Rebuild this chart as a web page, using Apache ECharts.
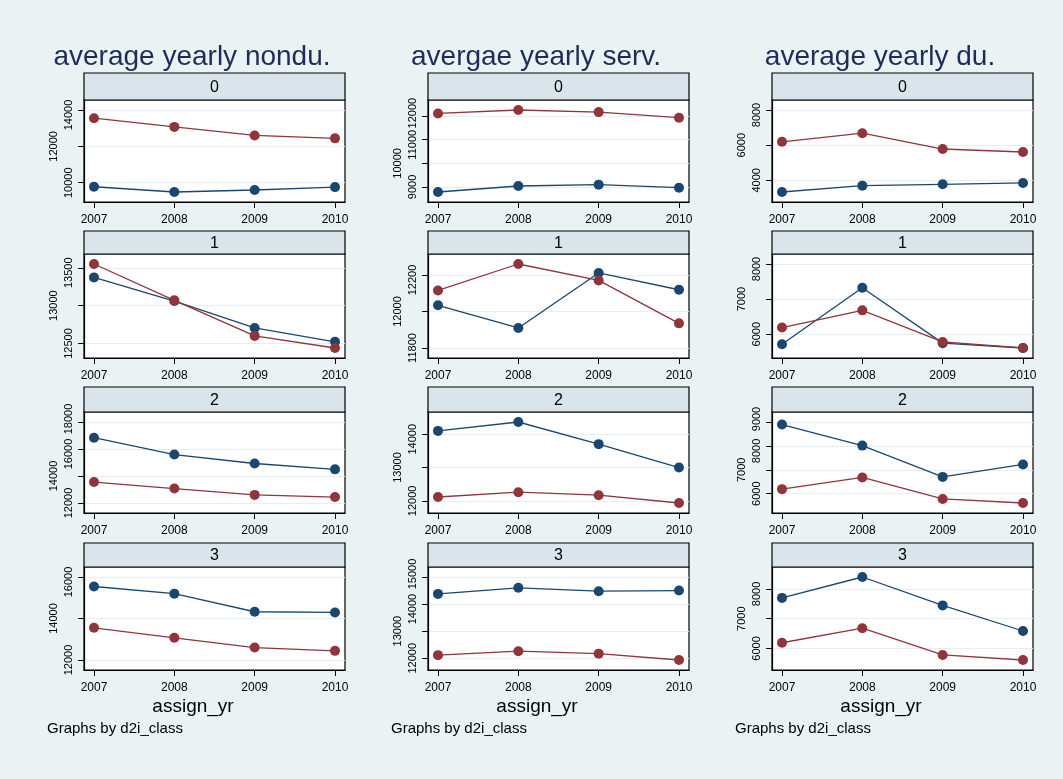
<!DOCTYPE html>
<html><head><meta charset="utf-8">
<script src="https://cdn.jsdelivr.net/npm/echarts@6/dist/echarts.min.js"></script>
<style>html,body{margin:0;padding:0;background:#eaf2f3}#c{width:1063px;height:779px}</style>
</head><body><div id="c"></div>
<script>
// ---------------- data ----------------
const years = [2007, 2008, 2009, 2010];
const classLabels = ['0', '1', '2', '3'];
const titles = ['average yearly nondu.', 'avergae yearly serv.', 'average yearly du.'];
const xTitle = 'assign_yr';
const note = 'Graphs by d2i_class';

// class-specific yearly averages (blue), classes 0..3
const nonduClass0 = [9780, 9490, 9600, 9760];
const nonduClass1 = [13373, 13060, 12705, 12522];
const nonduClass2 = [16838, 15588, 14927, 14492];
const nonduClass3 = [15542, 15198, 14325, 14292];
const nonduAll = [13550, 13070, 12600, 12440];   // overall average (red)

const servClass0 = [8787, 9042, 9098, 8970];
const servClass1 = [12034, 11910, 12211, 12119];
const servClass2 = [14101, 14368, 13703, 13000];
const servClass3 = [14376, 14602, 14477, 14500];
const servAll = [12115, 12260, 12170, 11935];

const duClass0 = [3334, 3696, 3770, 3851];
const duClass1 = [5716, 7322, 5746, 5608];
const duClass2 = [8893, 8012, 6702, 7224];
const duClass3 = [7700, 8403, 7448, 6586];
const duAll = [6190, 6680, 5780, 5610];

// y tick labels per panel
const nonduTicks = [[10000, 12000, 14000], [12500, 13000, 13500], [12000, 14000, 16000, 18000], [12000, 14000, 16000]];
const servTicks = [[9000, 10000, 11000, 12000], [11800, 12000, 12200], [12000, 13000, 14000], [12000, 13000, 14000, 15000]];
const duTicks = [[4000, 6000, 8000], [6000, 7000, 8000], [6000, 7000, 8000, 9000], [6000, 7000, 8000]];
// labels drawn in the staggered (outer) position
const nonduStagger = [[12000], [13000], [14000], [14000]];
const servStagger = [[10000], [12000], [13000], [13000]];
const duStagger = [[6000], [7000], [7000], [7000]];

// ---------------- layout ----------------
const BLUE = '#1a476f', RED = '#90353b';
const FONT = 'Liberation Sans, Arial, sans-serif';
const colLeft = [84, 428, 772];
const plotW = 261;
const rowTop = [100, 254, 412, 567];
const rowH = [102, 104, 101, 103];
const stripTop = [73, 231, 387, 543];
const PAD = 10;

const measures = [
  { cls: [nonduClass0, nonduClass1, nonduClass2, nonduClass3], all: nonduAll, ticks: nonduTicks, stag: nonduStagger },
  { cls: [servClass0, servClass1, servClass2, servClass3], all: servAll, ticks: servTicks, stag: servStagger },
  { cls: [duClass0, duClass1, duClass2, duClass3], all: duAll, ticks: duTicks, stag: duStagger }
];

const grid = [], xAxis = [], yAxis = [], series = [], graphic = [];
const xUnit = (years[years.length - 1] - years[0]) / (plotW - 2 * PAD);

// up / down: label values nudged along the axis so neighbouring labels do not collide
function yLabel(values, up, down) {
  return { show: values.length > 0, customValues: values.length ? values : [0], rotate: 90, color: '#000', fontSize: 11,
    fontFamily: FONT, margin: 10, hideOverlap: false, showMinLabel: true, showMaxLabel: true,
    rich: { u: { width: 6, fontSize: 11 }, d: { width: 10, fontSize: 11 } },
    formatter: v => up.indexOf(v) >= 0 ? '{u| }' + v : (down.indexOf(v) >= 0 ? v + '{d| }' : String(v)) };
}

measures.forEach((m, c) => {
  const L = colLeft[c];
  graphic.push({ type: 'text', x: L + 108, y: 57, z: 10,
    style: { text: titles[c], fill: '#1e2c5c', font: '28px ' + FONT, align: 'center', verticalAlign: 'middle' } });
  graphic.push({ type: 'text', x: L + 109, y: 707, z: 10,
    style: { text: xTitle, fill: '#000', font: '19px ' + FONT, align: 'center', verticalAlign: 'middle' } });
  graphic.push({ type: 'text', x: L - 37, y: 729, z: 10,
    style: { text: note, fill: '#000', font: '15px ' + FONT, align: 'left', verticalAlign: 'middle' } });
  for (let r = 0; r < 4; r++) {
    const gi = grid.length;
    const blue = m.cls[r], red = m.all, ticks = m.ticks[r], stag = m.stag[r];
    const all = blue.concat(red, ticks);
    const lo = Math.min(...all), hi = Math.max(...all);
    const unit = (hi - lo) / (rowH[r] - 2 * PAD);
    const yMin = lo - PAD * unit, yMax = hi + PAD * unit;
    grid.push({ left: L, top: rowTop[r], width: plotW, height: rowH[r], show: true,
      backgroundColor: '#ffffff', borderColor: '#000', borderWidth: 1.2 });
    xAxis.push({ type: 'value', gridIndex: gi, min: years[0] - PAD * xUnit, max: years[3] + PAD * xUnit,
      axisLine: { show: true, onZero: false, lineStyle: { color: '#000', width: 1.2 } },
      axisTick: { show: true, customValues: years, length: 6, lineStyle: { color: '#000' } },
      axisLabel: { customValues: years, formatter: v => String(v), color: '#000', fontSize: 12, fontFamily: FONT, margin: 12,
        hideOverlap: false, showMinLabel: true, showMaxLabel: true },
      splitLine: { show: false } });
    const mainLabels = ticks.filter(t => stag.indexOf(t) < 0);
    const labelsA = mainLabels.filter((t, i) => i % 2 === 0);
    const labelsB = mainLabels.filter((t, i) => i % 2 === 1);
    const upVals = labelsB.length ? [ticks[ticks.length - 1]] : [];
    yAxis.push({ type: 'value', gridIndex: gi, min: yMin, max: yMax, position: 'left',
      axisLine: { show: true, onZero: false, lineStyle: { color: '#000', width: 1.2 } },
      axisTick: { show: true, customValues: ticks, length: 6, lineStyle: { color: '#000' } },
      axisLabel: yLabel(labelsA, upVals, []),
      splitLine: { show: true, lineStyle: { color: '#e6eef1', width: 1 } } });
    yAxis.push({ type: 'value', gridIndex: gi, min: yMin, max: yMax, position: 'left', offset: 0,
      axisLine: { show: false }, axisTick: { show: false }, splitLine: { show: false },
      axisLabel: yLabel(labelsB, [], labelsB) });
    yAxis.push({ type: 'value', gridIndex: gi, min: yMin, max: yMax, position: 'left', offset: 15,
      axisLine: { show: false }, axisTick: { show: false }, splitLine: { show: false },
      axisLabel: yLabel(stag, [], []) });
    [[blue, BLUE], [red, RED]].forEach(([vals, col]) => {
      series.push({ type: 'line', xAxisIndex: gi, yAxisIndex: 3 * gi,
        data: years.map((y, k) => [y, vals[k]]),
        symbol: 'circle', symbolSize: 10, showSymbol: true,
        itemStyle: { color: col }, lineStyle: { color: col, width: 1.3 }, animation: false, silent: true });
    });
    graphic.push({ type: 'rect', shape: { x: L, y: stripTop[r], width: plotW, height: rowTop[r] - stripTop[r] }, z: 5,
      style: { fill: '#d9e5eb', stroke: '#000', lineWidth: 1.2 } });
    graphic.push({ type: 'text', x: L + plotW / 2, y: (stripTop[r] + rowTop[r]) / 2 + 1, z: 6,
      style: { text: classLabels[r], fill: '#000', font: '16px ' + FONT, align: 'center', verticalAlign: 'middle' } });
  }
});

const chart = echarts.init(document.getElementById('c'), null, { renderer: 'canvas' });
chart.setOption({ backgroundColor: '#eaf2f3', animation: false, grid, xAxis, yAxis, series, graphic });
</script></body></html>
